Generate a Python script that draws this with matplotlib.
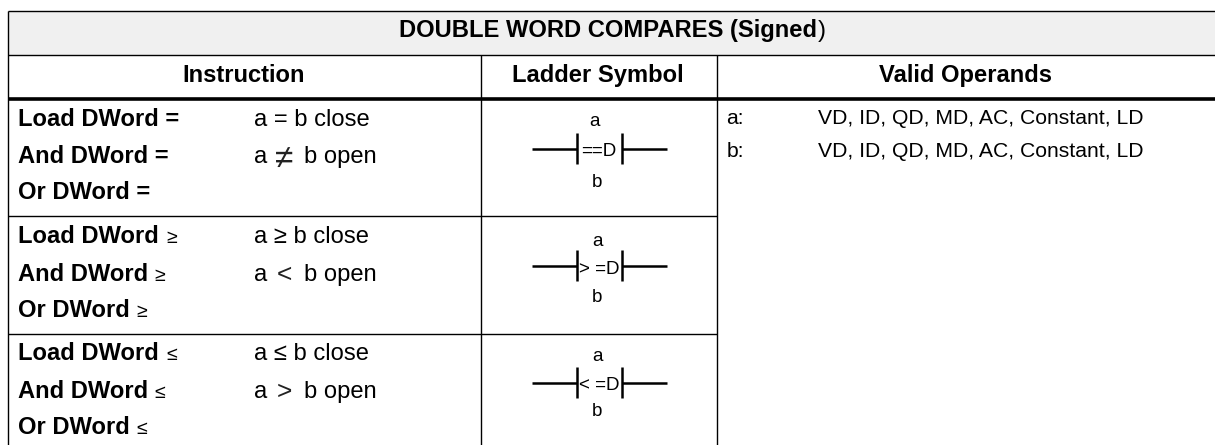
import matplotlib
matplotlib.use("Agg")
import matplotlib.pyplot as plt
from matplotlib.patches import Rectangle

plt.rcParams['font.family'] = ['Liberation Sans', 'DejaVu Sans']

title_bold = "DOUBLE WORD COMPARES (Signed"
title_end = ")"
headers = ["Instruction", "Ladder Symbol", "Valid Operands"]
instr = [["Load DWord =", "And DWord =", "Or DWord ="],
         ["Load DWord", "And DWord", "Or DWord"],
         ["Load DWord", "And DWord", "Or DWord"]]
instr_signs = [None, "≥", "≤"]
close_text = ["a = b close", "a ≥ b close", "a ≤ b close"]
open_signs = ["≠", "<", ">"]
symbols = ["==D", "> =D", "< =D"]
operand_labels = ["a:", "b:"]
operand_values = ["VD, ID, QD, MD, AC, Constant, LD"] * 2

W, H = 1215, 445
fig = plt.figure(figsize=(W/100, H/100), dpi=100)
ax = fig.add_axes([0, 0, 1, 1])
ax.set_xlim(0, W); ax.set_ylim(H, 0); ax.axis('off')

K = '#000000'
L, T, R = 7.5, 10.5, 1215
VA, VB = 480.5, 716.5
HDR, THK = 54.5, 98.5
ROWS = [215.5, 333.5]

ax.add_patch(Rectangle((L, T), R-L, HDR-T, fc='#f0f0f0', ec='none', zorder=0))
lw = 1.0
def hl(y, a, b, w=lw): ax.plot([a, b], [y, y], color=K, lw=w, solid_capstyle='butt', zorder=3)
def vl(x, a, b, w=lw): ax.plot([x, x], [a, b], color=K, lw=w, solid_capstyle='butt', zorder=3)
hl(T, L, R); hl(HDR, L, R); hl(THK, L, R, w=2.6)
vl(L, T, H); vl(VA, HDR, H); vl(VB, HDR, H)
for y in ROWS: hl(y, L, VB)

FS = 17.1
FS_O, FS_S, FS_SIGN = 15.2, 13.5, 14.0
def t(x, y, s, fs, w='normal', ha='left', c='#000000'):
    return ax.text(x, y, s, fontsize=fs, fontweight=w, ha=ha, va='baseline', color=c, zorder=4)

t(399, 37, title_bold, FS, 'bold')
t(818, 37, title_end, FS)
for x, s in zip([244, 598, 965.5], headers):
    t(x, 82, s, FS, 'bold', ha='center')

ROW_Y = [(125.5, 163, 199), (243, 281, 317), (360, 398, 434)]
SIGN_X = [166, 154.5, 136]
OPEN_FS = [24, 19, 19]
OPEN_X = [275, 277, 277]
OPEN_DY = [5, 1, 1]
for i, ys in enumerate(ROW_Y):
    for j, y in enumerate(ys):
        t(18.5, y, instr[i][j], FS, 'bold')
        if instr_signs[i]:
            t(SIGN_X[j], y, instr_signs[i], FS_SIGN)
    t(254, ys[0], close_text[i], FS)
    t(254, ys[1], "a", FS)
    t(OPEN_X[i], ys[1] + OPEN_DY[i], open_signs[i], OPEN_FS[i], c='#222222')
    t(303.5, ys[1], "b open", FS)

WIRE_Y = [148.7, 265.7, 382.7]
SYM_BASE = [155.7, 274, 390.5]
A_BASE = [126, 246.5, 361]
B_BASE = [186.7, 302.5, 416]
A_X = [595, 597.7, 597.7]
B_X = [596.7, 597.2, 597.2]
SYM_X = [599, 599.5, 599.5]
for k in range(3):
    cy = WIRE_Y[k]
    hl(cy, 532, 576.5, w=1.8); hl(cy, 621.5, 667, w=1.8)
    vl(576.5, cy-15.5, cy+15.5, w=1.8); vl(621.5, cy-15.5, cy+15.5, w=1.8)
    t(SYM_X[k], SYM_BASE[k], symbols[k], FS_S, ha='center')
    t(A_X[k], A_BASE[k], "a", FS_S, ha='center')
    t(B_X[k], B_BASE[k], "b", FS_S, ha='center')

for y, l, v in zip([124, 156.7], operand_labels, operand_values):
    t(726.5, y, l, FS_O)
    t(818, y, v, FS_O)

fig.savefig('out.png', dpi=100, facecolor='white')
